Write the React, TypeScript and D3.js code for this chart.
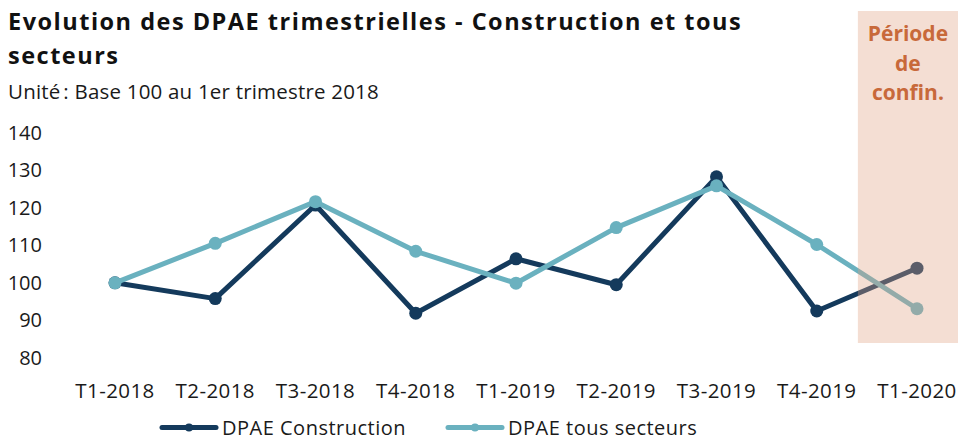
import React, { useRef, useEffect } from "react";
import * as d3 from "d3";

const quarters = ["T1-2018", "T2-2018", "T3-2018", "T4-2018", "T1-2019", "T2-2019", "T3-2019", "T4-2019", "T1-2020"];
const construction = [100, 95.8, 120.7, 91.9, 106.4, 99.5, 128.2, 92.5, 103.9];
const tousSecteurs = [100, 110.5, 121.6, 108.4, 99.9, 114.7, 125.8, 110.2, 93.1];
const yTicks = [80, 90, 100, 110, 120, 130, 140];
const seriesNames = ["DPAE Construction", "DPAE tous secteurs"];
const shadedQuarter = "T1-2020";

const width = 958;
const height = 440;
const font = "'Open Sans', 'Noto Sans', sans-serif";
const darkColor = "#143a5c";
const lightColor = "#6ab1bf";

const App = () => {
    const plot = useRef<SVGSVGElement>(null);

    useEffect(() => {
        const svg = d3.select(plot.current);
        svg.selectAll("*").remove();

        const xScale = d3.scalePoint<string>()
                        .domain(quarters)
                        .range([115, 917]);
        const yScale = d3.scaleLinear()
                        .domain([80, 140])
                        .range([358, 132.5]);

        const step = xScale.step();

        // y tick labels
        svg.append("g")
            .selectAll("text")
            .data(yTicks)
            .join("text")
            .attr("x", 42)
            .attr("y", d => yScale(d))
            .attr("dy", "0.35em")
            .attr("text-anchor", "end")
            .attr("font-family", font)
            .attr("font-size", 20)
            .attr("fill", "#1a1a1a")
            .text(d => d);

        // x tick labels
        svg.append("g")
            .selectAll("text")
            .data(quarters)
            .join("text")
            .attr("x", d => xScale(d)!)
            .attr("y", 397.5)
            .attr("text-anchor", "middle")
            .attr("font-family", font)
            .attr("font-size", 20.5)
            .attr("letter-spacing", 0.4)
            .attr("fill", "#1a1a1a")
            .text(d => d);

        const line = d3.line<number>()
                        .x((d, i) => xScale(quarters[i])!)
                        .y(d => yScale(d));

        const series = [
            { values: construction, color: darkColor },
            { values: tousSecteurs, color: lightColor },
        ];

        series.forEach(s => {
            svg.append("path")
                .attr("fill", "none")
                .attr("stroke", s.color)
                .attr("stroke-width", 5)
                .attr("stroke-linejoin", "round")
                .attr("d", line(s.values));
            svg.append("g")
                .selectAll("circle")
                .data(s.values)
                .join("circle")
                .attr("cx", (d, i) => xScale(quarters[i])!)
                .attr("cy", d => yScale(d))
                .attr("r", 6.5)
                .attr("fill", s.color);
        });

        // confinement period overlay
        const bx = xScale(shadedQuarter)! - step / 2 - 9;
        svg.append("rect")
            .attr("x", bx)
            .attr("y", 11)
            .attr("width", width - bx)
            .attr("height", 332)
            .attr("fill", "#e0a080")
            .attr("fill-opacity", 0.35);

        const lab = svg.append("text")
            .attr("text-anchor", "middle")
            .attr("font-family", font)
            .attr("font-size", 21)
            .attr("font-weight", "bold")
            .attr("fill", "#c8693a");
        ["Période", "de", "confin."].forEach((t, i) => {
            lab.append("tspan")
                .attr("x", (bx + width) / 2)
                .attr("y", 41 + i * 29.5)
                .text(t);
        });

        // legend
        const legend = svg.append("g")
            .attr("font-family", font)
            .attr("font-size", 20)
            .attr("letter-spacing", 0.5);
        [[162, darkColor, seriesNames[0]], [448, lightColor, seriesNames[1]]].forEach(([x, c, name]) => {
            const lx = x as number;
            legend.append("line")
                .attr("x1", lx).attr("x2", lx + 54)
                .attr("y1", 427.5).attr("y2", 427.5)
                .attr("stroke", c as string)
                .attr("stroke-width", 5)
                .attr("stroke-linecap", "round");
            legend.append("circle")
                .attr("cx", lx + 27).attr("cy", 427.5).attr("r", 4)
                .attr("fill", c as string);
            legend.append("text")
                .attr("x", lx + 60).attr("y", 427.5)
                .attr("dy", "0.35em")
                .attr("fill", "#1a1a1a")
                .text(name as string);
        });

        // titles
        const title = svg.append("text")
            .attr("font-family", font)
            .attr("font-size", 23.5)
            .attr("font-weight", "bold")
            .attr("letter-spacing", 1.5)
            .attr("fill", "#111");
        title.append("tspan").attr("x", 8).attr("y", 30).text("Evolution des DPAE trimestrielles - Construction et tous");
        title.append("tspan").attr("x", 8).attr("y", 64).text("secteurs");

        svg.append("text")
            .attr("x", 8).attr("y", 99)
            .attr("font-family", font)
            .attr("font-size", 20.5)
            .attr("letter-spacing", 0.2)
            .attr("fill", "#1a1a1a")
            .text("Unité\u202f: Base 100 au 1er trimestre 2018");
    });

    return (
        <svg ref={plot} width={width} height={height} style={{ position: "absolute", left: 0, top: 0 }} />
    );
};

export default App;
